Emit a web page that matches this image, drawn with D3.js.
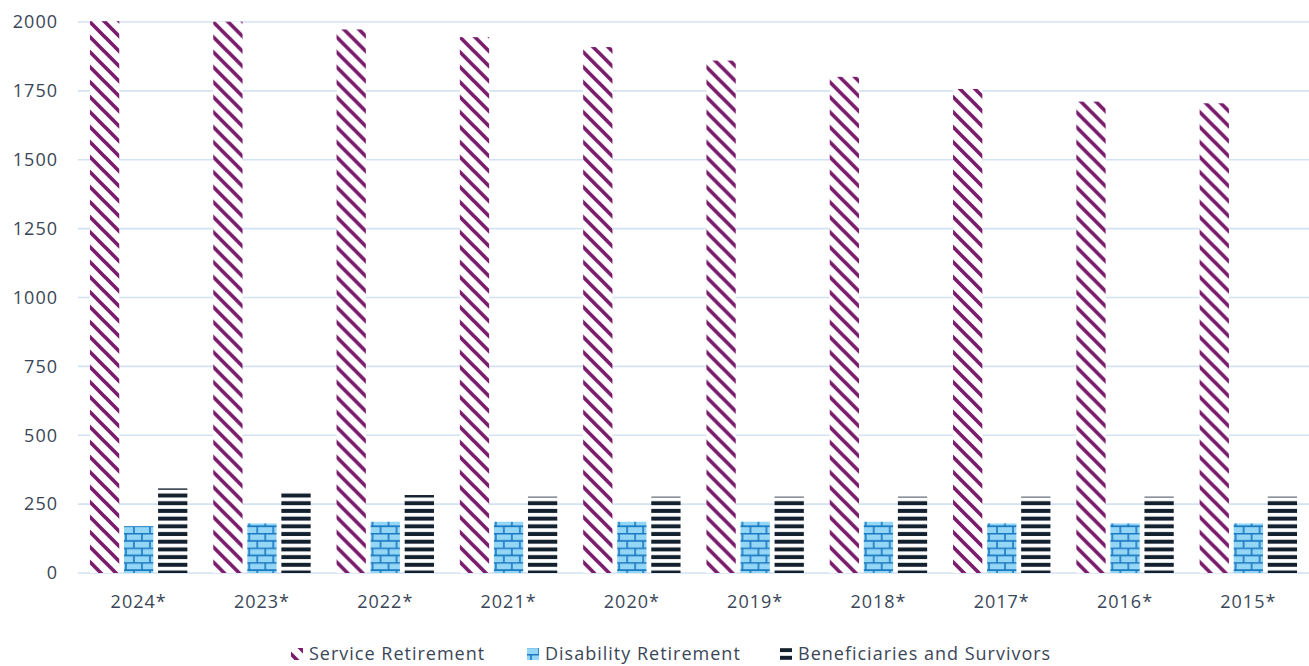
<!DOCTYPE html>
<html>
<head>
<meta charset="utf-8">
<script src="https://cdn.jsdelivr.net/npm/d3@7"></script>
<style>
  body { margin: 0; background: #fff; }
  svg text { font-family: "Open Sans", "Liberation Sans", sans-serif; letter-spacing: 1px; }
</style>
</head>
<body>
<svg id="chart"></svg>
<script>
// categories and series
const years = ['2024*', '2023*', '2022*', '2021*', '2020*', '2019*', '2018*', '2017*', '2016*', '2015*'];
const seriesNames = ['Service Retirement', 'Disability Retirement', 'Beneficiaries and Survivors'];
const serviceRetirement = [2003, 2001, 1973, 1945, 1909, 1860, 1801, 1757, 1711, 1705];
const disabilityRetirement = [170, 180, 186, 186, 186, 186, 186, 180, 180, 180];
const beneficiaries = [307, 299, 283, 277, 277, 277, 277, 277, 277, 277];
const yTicks = [0, 250, 500, 750, 1000, 1250, 1500, 1750, 2000];

const width = 1309, height = 666;
const margin = { top: 22, right: 0, bottom: 93, left: 78 };
const innerW = width - margin.left - margin.right;
const innerH = height - margin.top - margin.bottom;

const svg = d3.select('#chart')
  .attr('width', width)
  .attr('height', height);

// fill patterns
const defs = svg.append('defs');

const s = 15;
const stripe = defs.append('pattern')
  .attr('id', 'pat-service')
  .attr('patternUnits', 'userSpaceOnUse')
  .attr('width', s).attr('height', s);
stripe.append('rect').attr('width', s).attr('height', s).attr('fill', '#fff');
stripe.append('path')
  .attr('d', `M-2,-2 L${s + 2},${s + 2} M-3,${s - 3} L3,${s + 3} M${s - 3},-3 L${s + 3},3`)
  .attr('stroke', '#7a1c6c').attr('stroke-width', 3.7);

const brick = defs.append('pattern')
  .attr('id', 'pat-disability')
  .attr('patternUnits', 'userSpaceOnUse')
  .attr('width', 16).attr('height', 14.6);
brick.append('rect').attr('width', 16).attr('height', 14.6).attr('fill', '#93d6f5');
brick.append('path')
  .attr('d', 'M0,0.6 H16 M0,7.9 H16 M4,0.6 V7.9 M12,7.9 V14.6')
  .attr('stroke', '#1a78c2').attr('stroke-width', 1.6);

const hline = defs.append('pattern')
  .attr('id', 'pat-benef')
  .attr('patternUnits', 'userSpaceOnUse')
  .attr('width', 8).attr('height', 7.7);
hline.append('rect').attr('width', 8).attr('height', 7.7).attr('fill', '#fff');
hline.append('rect').attr('y', 1.8).attr('width', 8).attr('height', 4).attr('fill', '#13202e');

const fills = ['url(#pat-service)', 'url(#pat-disability)', 'url(#pat-benef)'];

const rows = years.map((y, i) => ({
  year: y,
  values: [serviceRetirement[i], disabilityRetirement[i], beneficiaries[i]]
}));

const chart = svg.append('g')
  .attr('transform', `translate(${margin.left},${margin.top})`);

const x0 = d3.scaleBand().domain(years).range([0, innerW]).paddingInner(0.21).paddingOuter(0.097);
const x1 = d3.scaleBand().domain(d3.range(3)).range([0, x0.bandwidth()]).paddingInner(0.14);
const yScale = d3.scaleLinear().domain([0, 2000]).range([innerH, 0]);

// gridlines
chart.append('g')
  .selectAll('line')
  .data(yTicks)
  .join('line')
  .attr('x1', 0).attr('x2', innerW)
  .attr('y1', d => yScale(d)).attr('y2', d => yScale(d))
  .attr('stroke', '#d3e2f2')
  .attr('stroke-width', 1.6);

// y axis labels
const yAxis = d3.axisLeft(yScale).tickValues(yTicks).tickFormat(d3.format('d')).tickSize(0).tickPadding(20);
chart.append('g')
  .call(yAxis)
  .call(g => g.select('.domain').remove())
  .selectAll('text')
  .attr('font-size', 18)
  .attr('fill', '#3a4658');

// x axis labels
const xAxis = d3.axisBottom(x0).tickSize(0).tickPadding(22);
chart.append('g')
  .attr('transform', `translate(0,${innerH})`)
  .call(xAxis)
  .call(g => g.select('.domain').remove())
  .selectAll('text')
  .attr('font-size', 18)
  .attr('fill', '#3a4658');

// bars
const groups = chart.selectAll('.grp')
  .data(rows)
  .join('g')
  .attr('class', 'grp')
  .attr('transform', d => `translate(${x0(d.year)},0)`);

groups.selectAll('rect')
  .data(d => d.values.map((v, k) => ({ k, v })))
  .join('rect')
  .attr('x', d => x1(d.k))
  .attr('width', x1.bandwidth())
  .attr('y', d => yScale(d.v))
  .attr('height', d => innerH - yScale(d.v))
  .attr('fill', d => fills[d.k]);

// legend
const legendX = [291, 527, 780];
const legend = svg.append('g')
  .attr('transform', `translate(0,654)`);

const items = legend.selectAll('g')
  .data(seriesNames)
  .join('g')
  .attr('transform', (d, i) => `translate(${legendX[i]},0)`);

items.append('rect')
  .attr('x', 0).attr('y', -6)
  .attr('width', 12).attr('height', 12)
  .attr('fill', (d, i) => fills[i]);

items.append('text')
  .attr('x', 18)
  .attr('dy', '0.36em')
  .attr('font-size', 18)
  .attr('fill', '#3a4658')
  .text(d => d);
</script>
</body>
</html>
